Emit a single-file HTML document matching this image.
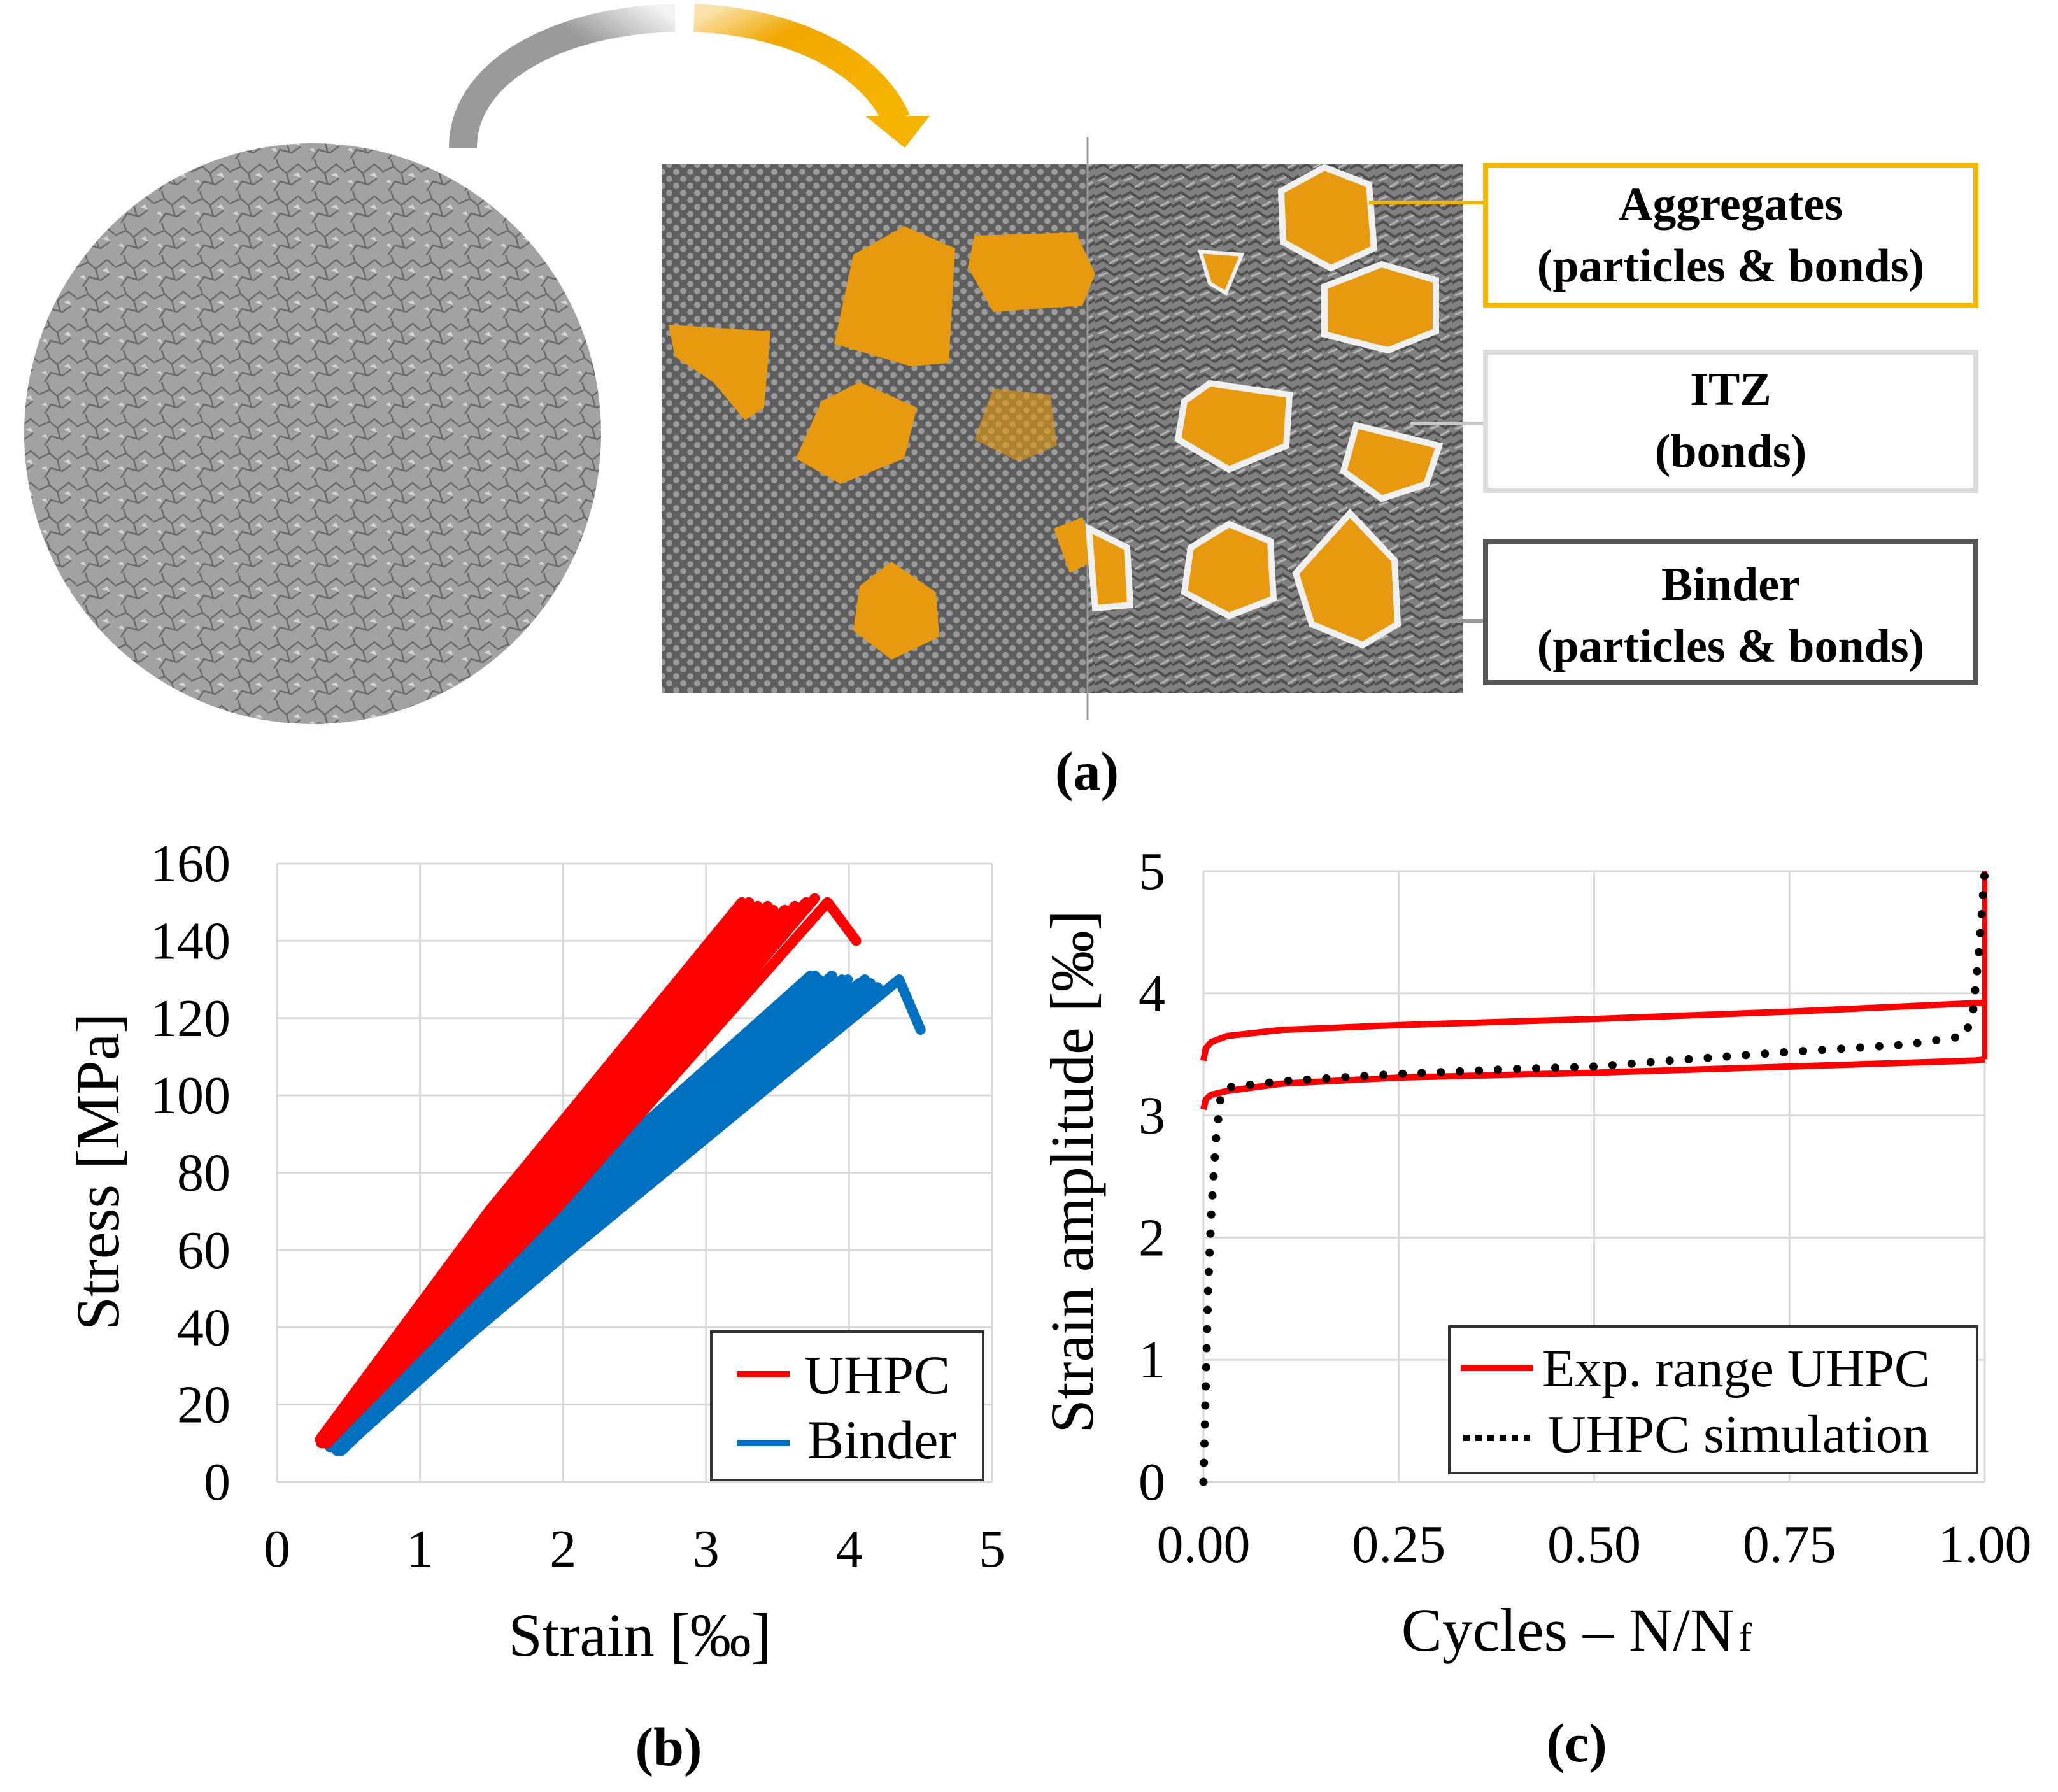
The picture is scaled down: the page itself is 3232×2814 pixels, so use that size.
<!DOCTYPE html>
<html><head><meta charset="utf-8"><style>
html,body{margin:0;padding:0;background:#fff;}
svg, svg text{font-family:"Liberation Serif","Times New Roman",serif;}
svg{display:block;}
</style></head><body>
<svg id="fig" width="3232" height="2814" viewBox="0 0 3232 2814" xmlns="http://www.w3.org/2000/svg" font-family="Liberation Serif, serif">
<defs>
  <pattern id="dots" width="22" height="22" patternUnits="userSpaceOnUse">
    <rect width="22" height="22" fill="#5e5e5e"/>
    <circle cx="6" cy="6" r="5" fill="#9a9a9a"/><circle cx="17" cy="17" r="5" fill="#9a9a9a"/>
  </pattern>
  <pattern id="rough" width="40" height="30" patternUnits="userSpaceOnUse">
    <rect width="40" height="30" fill="#808080"/>
    <path d="M0 10 L15 2 L30 12 L40 6 M0 25 L12 18 L28 28 L40 20" stroke="#4f4f4f" stroke-width="4" fill="none"/>
    <path d="M5 14 L20 8 M22 24 L36 16" stroke="#b5b5b5" stroke-width="3" fill="none"/>
  </pattern>
  <pattern id="stones" width="60" height="50" patternUnits="userSpaceOnUse">
    <rect width="60" height="50" fill="#a2a2a2"/>
    <path d="M0 20 L18 12 L30 22 L48 8 L60 18 M10 50 L20 35 L38 40 L52 30 M30 22 L35 40 M18 12 L14 0" stroke="#6a6a6a" stroke-width="2.5" fill="none"/>
    <path d="M40 25 l8 -4 l4 8 z M5 35 l7 -3 l3 7 z" fill="#d5d5d5"/>
  </pattern>
  <linearGradient id="gGrey" x1="0" y1="1" x2="1" y2="0"><stop offset="0" stop-color="#9a9a9a"/><stop offset="0.7" stop-color="#9a9a9a"/><stop offset="1" stop-color="#f4f4f4"/></linearGradient>
  <linearGradient id="gOrange" x1="0" y1="0" x2="1" y2="1"><stop offset="0" stop-color="#fbe3b0"/><stop offset="0.3" stop-color="#f0a800"/><stop offset="1" stop-color="#f7b500"/></linearGradient>
</defs>

<g>
  <ellipse cx="491" cy="681" rx="453" ry="456" fill="url(#stones)"/>
  <path d="M727 232 C727 110 880 32 1060 28" stroke="url(#gGrey)" stroke-width="44" fill="none"/>
  <path d="M1090 28 C1250 35 1370 100 1408 188" stroke="url(#gOrange)" stroke-width="44" fill="none"/>
  <polygon points="1359,182 1460,182 1421,232" fill="#f6b300"/>
  <rect x="1039" y="258" width="668" height="830" fill="url(#dots)"/>
  <rect x="1707" y="258" width="590" height="830" fill="url(#rough)"/>
  <line x1="1708" y1="215" x2="1708" y2="1130" stroke="#999" stroke-width="3"/>
  <g fill="#e79a10">
    <polygon points="1420,355 1500,390 1490,570 1430,575 1310,540 1340,400"/>
    <polygon points="1530,370 1690,365 1720,430 1700,480 1560,490 1520,420"/>
    <polygon points="1050,510 1210,520 1200,640 1170,660 1120,600 1060,560"/>
    <polygon points="1350,600 1440,640 1420,720 1320,760 1250,720 1290,630"/>
    <polygon points="1560,610 1650,620 1660,700 1600,725 1530,690" opacity="0.6"/>
    <polygon points="1400,882 1470,930 1475,1000 1400,1036 1340,990 1350,920"/>
    <polygon points="1655,830 1700,812 1720,880 1680,900"/>
  </g>
  <g fill="#e79a10" stroke="#f0f0f0" stroke-width="10">
    <polygon points="2080,263 2150,290 2158,390 2090,421 2015,380 2012,300"/>
    <polygon points="2170,415 2255,440 2255,520 2180,550 2080,525 2080,450"/>
    <polygon points="1900,602 2025,620 2020,700 1930,737 1850,690 1860,630"/>
    <polygon points="2130,668 2260,700 2240,760 2170,783 2110,740"/>
    <polygon points="1930,823 1995,850 2000,940 1930,967 1860,930 1870,860"/>
    <polygon points="2120,806 2190,880 2195,980 2140,1013 2060,980 2035,900"/>
    <polygon points="1710,830 1770,860 1775,950 1720,955"/>
    <polygon points="1885,395 1950,400 1925,460 1900,445" stroke-width="6"/>
  </g>
  <line x1="2150" y1="318" x2="2331" y2="318" stroke="#f2b400" stroke-width="6"/>
  <line x1="2215" y1="665" x2="2331" y2="665" stroke="#c8c8c8" stroke-width="6"/>
  <line x1="2255" y1="975" x2="2331" y2="975" stroke="#999" stroke-width="6"/>
  <g>
    <rect x="2333" y="260" width="770" height="220" fill="#fff" stroke="#f5b800" stroke-width="8"/>
    <text x="2718" y="345" text-anchor="middle" font-size="74" font-weight="bold">Aggregates</text>
    <text x="2718" y="442" text-anchor="middle" font-size="74" font-weight="bold">(particles &amp; bonds)</text>
  </g>
  <g>
    <rect x="2333" y="553" width="770" height="217" fill="#fff" stroke="#dcdcdc" stroke-width="8"/>
    <text x="2718" y="636" text-anchor="middle" font-size="74" font-weight="bold">ITZ</text>
    <text x="2718" y="733" text-anchor="middle" font-size="74" font-weight="bold">(bonds)</text>
  </g>
  <g>
    <rect x="2333" y="850" width="770" height="222" fill="#fff" stroke="#555" stroke-width="8"/>
    <text x="2718" y="942" text-anchor="middle" font-size="74" font-weight="bold">Binder</text>
    <text x="2718" y="1039" text-anchor="middle" font-size="74" font-weight="bold">(particles &amp; bonds)</text>
  </g>
  <text x="1707" y="1240" text-anchor="middle" font-size="86" font-weight="bold">(a)</text>
</g>

<g id="chartB"></g>
<g id="chartC"></g>
</svg>
<script>
// ---- Chart (b) data ----
const bXTicks = [0, 1, 2, 3, 4, 5];
const bYTicks = [0, 20, 40, 60, 80, 100, 120, 140, 160];
const uhpcStartStrain = [0.30, 0.30, 0.31, 0.31, 0.32, 0.32, 0.33, 0.33, 0.34, 0.34, 0.35, 0.35, 0.32, 0.33, 0.34, 0.35];
const uhpcStartStress = [11, 11, 10, 11, 10, 11, 10, 11, 10, 10, 10, 10, 10, 10, 10, 10];
const uhpcMidStrain = [1.48, 1.51, 1.54, 1.57, 1.60, 1.63, 1.66, 1.69, 1.72, 1.75, 1.78, 1.82, 1.85, 1.88, 1.91, 1.94];
const uhpcMidStress = [70, 70, 70, 70, 70, 70, 70, 70, 70, 70, 70, 70, 70, 70, 70, 70];
const uhpcPeakStrain = [3.25, 3.27, 3.30, 3.33, 3.36, 3.40, 3.43, 3.47, 3.50, 3.55, 3.58, 3.62, 3.66, 3.70, 3.76, 3.85];
const uhpcPeakStress = [150, 149, 150, 148, 149, 147, 149, 148, 146, 148, 147, 149, 147, 150, 151, 150];
const uhpcTailStrain = [4.05];
const uhpcTailStress = [140];
const binderStartStrain = [0.35, 0.36, 0.37, 0.38, 0.38, 0.39, 0.40, 0.41, 0.42, 0.43, 0.44, 0.45, 0.42, 0.43, 0.44, 0.42];
const binderStartStress = [10, 10, 9, 10, 9, 9, 9, 9, 8, 9, 8, 8, 9, 9, 8, 9];
const binderMidStrain = [1.58, 1.61, 1.64, 1.67, 1.70, 1.73, 1.76, 1.79, 1.82, 1.85, 1.88, 1.91, 1.94, 1.97, 2.01, 2.05];
const binderMidStress = [60, 60, 60, 60, 60, 60, 60, 60, 60, 60, 60, 60, 60, 60, 60, 60];
const binderPeakStrain = [3.70, 3.73, 3.76, 3.79, 3.82, 3.85, 3.88, 3.92, 3.95, 3.99, 4.03, 4.07, 4.11, 4.15, 4.20, 4.35];
const binderPeakStress = [130, 131, 131, 130, 129, 130, 131, 129, 130, 130, 128, 129, 130, 129, 128, 130];
const binderTailStrain = [4.50];
const binderTailStress = [117];

// ---- Chart (c) data ----
const cXTicks = [0, 0.25, 0.5, 0.75, 1.0];
const cXTickLabels = ["0.00", "0.25", "0.50", "0.75", "1.00"];
const cYTicks = [0, 1, 2, 3, 4, 5];
const expUpperX = [0, 0.003, 0.01, 0.03, 0.1, 0.25, 0.5, 0.75, 0.99, 1.0];
const expUpperY = [3.45, 3.55, 3.6, 3.65, 3.7, 3.74, 3.79, 3.85, 3.92, 3.92];
const expLowerX = [0, 0.003, 0.01, 0.03, 0.1, 0.25, 0.5, 0.75, 0.99, 1.0];
const expLowerY = [3.05, 3.13, 3.17, 3.2, 3.26, 3.31, 3.35, 3.4, 3.45, 3.46];
const expVertX = [1.0, 1.0];
const expVertY = [3.46, 5.0];
const simX = [0, 0.003, 0.006, 0.01, 0.016, 0.022, 0.03, 0.1, 0.25, 0.4, 0.5, 0.6, 0.75, 0.9, 0.975, 0.985, 0.992, 1.0];
const simY = [0, 0.8, 1.6, 2.2, 2.8, 3.15, 3.23, 3.28, 3.34, 3.38, 3.4, 3.45, 3.52, 3.58, 3.65, 3.85, 4.3, 5.0];

const NS = "http://www.w3.org/2000/svg";
function mk(parent, tag, attrs, txt) {
  const e = document.createElementNS(NS, tag);
  for (const k in attrs) e.setAttribute(k, attrs[k]);
  if (txt !== undefined) e.textContent = txt;
  parent.appendChild(e);
  return e;
}
function pathFrom(xs, ys, sx, sy) {
  return xs.map((v, i) => (i ? "L" : "M") + sx(v).toFixed(1) + " " + sy(ys[i]).toFixed(1)).join(" ");
}

(function () {
  const g = document.getElementById("chartB");
  const L = 435, R = 1558, T = 1356, B = 2327;
  const sx = v => L + (v / 5) * (R - L);
  const sy = v => B - (v / 160) * (B - T);
  bXTicks.forEach(t => {
    const l = mk(g, "line", {x1: sx(t), x2: sx(t), y1: T, y2: B, stroke: "#d9d9d9", "stroke-width": 3});
    
    
    const tx = mk(g, "text", {x: sx(t), y: 2460, "text-anchor": "middle", "font-size": 84}, String(t));
    
    
  });
  bYTicks.forEach(t => {
    const l = mk(g, "line", {x1: L, x2: R, y1: sy(t), y2: sy(t), stroke: "#d9d9d9", "stroke-width": 3});
    
    
    const tx = mk(g, "text", {x: 362, y: sy(t) + 28, "text-anchor": "end", "font-size": 84}, String(t));
    
    
  });
  function series(name, color, s0, y0, sm, ym, sp, yp, tailS, tailY) {
    sp.forEach((v, i) => {
      const xs = [s0[i], sm[i], sp[i]], ys = [y0[i], ym[i], yp[i]];
      if (i === sp.length - 1) { tailS.forEach((t, j) => { xs.push(t); ys.push(tailY[j]); }); }
      const p = mk(g, "path", {d: pathFrom(xs, ys, sx, sy), stroke: color, "stroke-width": 16, fill: "none", "stroke-linejoin": "round", "stroke-linecap": "round"});
      
      
    });
  }
  series("binder", "#0070c0", binderStartStrain, binderStartStress, binderMidStrain, binderMidStress, binderPeakStrain, binderPeakStress, binderTailStrain, binderTailStress);
  series("uhpc", "#ff0000", uhpcStartStrain, uhpcStartStress, uhpcMidStrain, uhpcMidStress, uhpcPeakStrain, uhpcPeakStress, uhpcTailStrain, uhpcTailStress);

  const lg = mk(g, "g", {});
  
  
  mk(lg, "rect", {x: 1117, y: 2091, width: 427, height: 233, fill: "#fff", stroke: "#333", "stroke-width": 4});
  mk(lg, "line", {x1: 1157, x2: 1240, y1: 2158, y2: 2158, stroke: "#ff0000", "stroke-width": 10});
  mk(lg, "text", {x: 1263, y: 2188, "font-size": 86}, "UHPC");
  mk(lg, "line", {x1: 1157, x2: 1240, y1: 2266, y2: 2266, stroke: "#0070c0", "stroke-width": 10});
  mk(lg, "text", {x: 1268, y: 2290, "font-size": 86}, "Binder");

  const xt = mk(g, "text", {x: 1005, y: 2600, "text-anchor": "middle", "font-size": 96}, "Strain [‰]");
  
  
  const yt = mk(g, "text", {x: 0, y: 0, "text-anchor": "middle", "font-size": 96, transform: "translate(186,1840) rotate(-90)"}, "Stress [MPa]");
  
  
  const pl = mk(g, "text", {x: 1050, y: 2772, "text-anchor": "middle", "font-size": 86, "font-weight": "bold"}, "(b)");
  
  
})();

(function () {
  const g = document.getElementById("chartC");
  const L = 1890, R = 3117, T = 1368, B = 2327;
  const sx = v => L + v * (R - L);
  const sy = v => B - (v / 5) * (B - T);
  cXTicks.forEach((t, i) => {
    const l = mk(g, "line", {x1: sx(t), x2: sx(t), y1: T, y2: B, stroke: "#d9d9d9", "stroke-width": 3});
    
    
    const tx = mk(g, "text", {x: sx(t), y: 2453, "text-anchor": "middle", "font-size": 84}, cXTickLabels[i]);
    
    
  });
  cYTicks.forEach(t => {
    const l = mk(g, "line", {x1: L, x2: R, y1: sy(t), y2: sy(t), stroke: "#d9d9d9", "stroke-width": 3});
    
    
    const tx = mk(g, "text", {x: 1830, y: sy(t) + 28, "text-anchor": "end", "font-size": 84}, String(t));
    
    
  });
  const up = mk(g, "path", {d: pathFrom(expUpperX, expUpperY, sx, sy), stroke: "#ff0000", "stroke-width": 10, fill: "none"});
  
  
  const lo = mk(g, "path", {d: pathFrom(expLowerX, expLowerY, sx, sy), stroke: "#ff0000", "stroke-width": 10, fill: "none"});
  
  
  const vt = mk(g, "path", {d: pathFrom(expVertX, expVertY, sx, sy), stroke: "#ff0000", "stroke-width": 8, fill: "none"});
  
  
  const sim = mk(g, "path", {d: pathFrom(simX, simY, sx, sy), stroke: "#000", "stroke-width": 13, fill: "none", "stroke-dasharray": "0 30", "stroke-linecap": "round"});
  
  

  const lg = mk(g, "g", {});
  
  
  mk(lg, "rect", {x: 2276, y: 2083, width: 829, height: 230, fill: "#fff", stroke: "#333", "stroke-width": 4});
  mk(lg, "line", {x1: 2294, x2: 2408, y1: 2148, y2: 2148, stroke: "#ff0000", "stroke-width": 10});
  mk(lg, "text", {x: 2422, y: 2177, "font-size": 84}, "Exp. range UHPC");
  mk(lg, "line", {x1: 2298, x2: 2408, y1: 2258, y2: 2258, stroke: "#000", "stroke-width": 10, "stroke-dasharray": "10 9"});
  mk(lg, "text", {x: 2430, y: 2280, "font-size": 84}, "UHPC simulation");

  const xt = mk(g, "text", {x: 2466, y: 2592, "text-anchor": "middle", "font-size": 96}, "Cycles – N/N\u200A");
  
  
  const sub = mk(g, "text", {x: 2730, y: 2592, "font-size": 64}, "f");
  
  
  const yt = mk(g, "text", {x: 0, y: 0, "text-anchor": "middle", "font-size": 96, transform: "translate(1716,1840) rotate(-90)"}, "Strain amplitude [‰]");
  
  
  const pl = mk(g, "text", {x: 2476, y: 2766, "text-anchor": "middle", "font-size": 86, "font-weight": "bold"}, "(c)");
  
  
})();
</script>
</body></html>
